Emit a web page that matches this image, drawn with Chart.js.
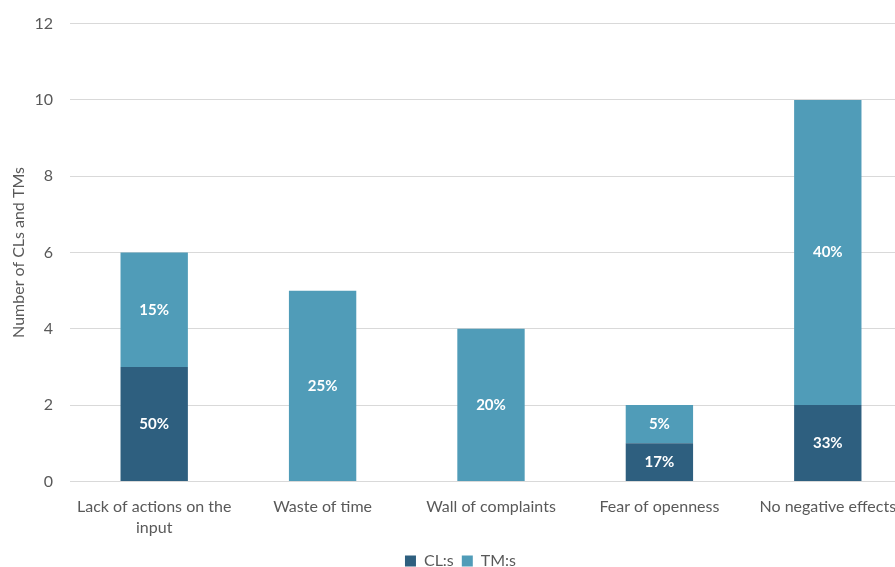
<!DOCTYPE html>
<html>
<head>
<meta charset="utf-8">
<script src="https://cdn.jsdelivr.net/npm/chart.js@4"></script>
<style>
  html, body { margin: 0; padding: 0; overflow: hidden; background: #fff; }
  #wrap { width: 912px; height: 582px; margin-top: -3px; }
</style>
</head>
<body>
<div id="wrap"><canvas id="chart"></canvas></div>
<script>
const categories = [
  ['Lack of actions on the', 'input'],
  'Waste of time',
  'Wall of complaints',
  'Fear of openness',
  'No negative effects'
];
const clValues = [3, 0, 0, 1, 2];
const tmValues = [3, 5, 4, 1, 8];
const clPercent = ['50%', '', '', '17%', '33%'];
const tmPercent = ['15%', '25%', '20%', '5%', '40%'];
const yTicks = [0, 2, 4, 6, 8, 10, 12];

// draw percentage labels in the middle of each segment
const barLabels = {
  id: 'barLabels',
  afterDatasetsDraw(chart) {
    const ctx = chart.ctx;
    ctx.save();
    ctx.font = 'bold 15px Lato';
    ctx.fillStyle = '#ffffff';
    ctx.textAlign = 'center';
    ctx.textBaseline = 'middle';
    chart.data.datasets.forEach((ds, i) => {
      chart.getDatasetMeta(i).data.forEach((bar, j) => {
        const txt = ds.pctLabels[j];
        if (!txt || !ds.data[j]) return;
        ctx.fillText(txt, bar.x, (bar.y + bar.base) / 2);
      });
    });
    ctx.restore();
  }
};

new Chart(document.getElementById('chart').getContext('2d'), {
  type: 'bar',
  data: {
    labels: categories,
    datasets: [{
      label: 'CL:s',
      data: clValues,
      pctLabels: clPercent,
      backgroundColor: '#2e5f7f'
    }, {
      label: 'TM:s',
      data: tmValues,
      pctLabels: tmPercent,
      backgroundColor: '#509cb8'
    }]
  },
  options: {
    responsive: true,
    maintainAspectRatio: false,
    animation: false,
    layout: { padding: { left: 9, top: 8, right: 0, bottom: 0 } },
    datasets: { bar: { categoryPercentage: 0.8, barPercentage: 0.5 } },
    plugins: {
      legend: {
        position: 'bottom',
        labels: {
          color: '#595959',
          font: { family: 'Lato', size: 16 },
          boxWidth: 11,
          boxHeight: 11,
          padding: 8
        }
      },
      tooltip: { enabled: false }
    },
    scales: {
      x: {
        stacked: true,
        grid: { display: false },
        border: { display: false },
        ticks: { color: '#595959', font: { family: 'Lato', size: 16, lineHeight: 1.3 }, maxRotation: 0, padding: 7 }
      },
      y: {
        stacked: true,
        min: 0,
        max: 12,
        afterFit(scale) { scale.width = 61; },
        afterBuildTicks(scale) { scale.ticks = yTicks.map(v => ({ value: v })); },
        grid: { color: '#d9d9d9', drawTicks: false },
        border: { display: false },
        ticks: { color: '#595959', font: { family: 'Lato', size: 16 }, padding: 17 },
        title: {
          display: true,
          text: 'Number of CLs and TMs',
          color: '#595959',
          font: { family: 'Lato', size: 16 },
          padding: 0
        }
      }
    }
  },
  plugins: [barLabels]
});
</script>
</body>
</html>
